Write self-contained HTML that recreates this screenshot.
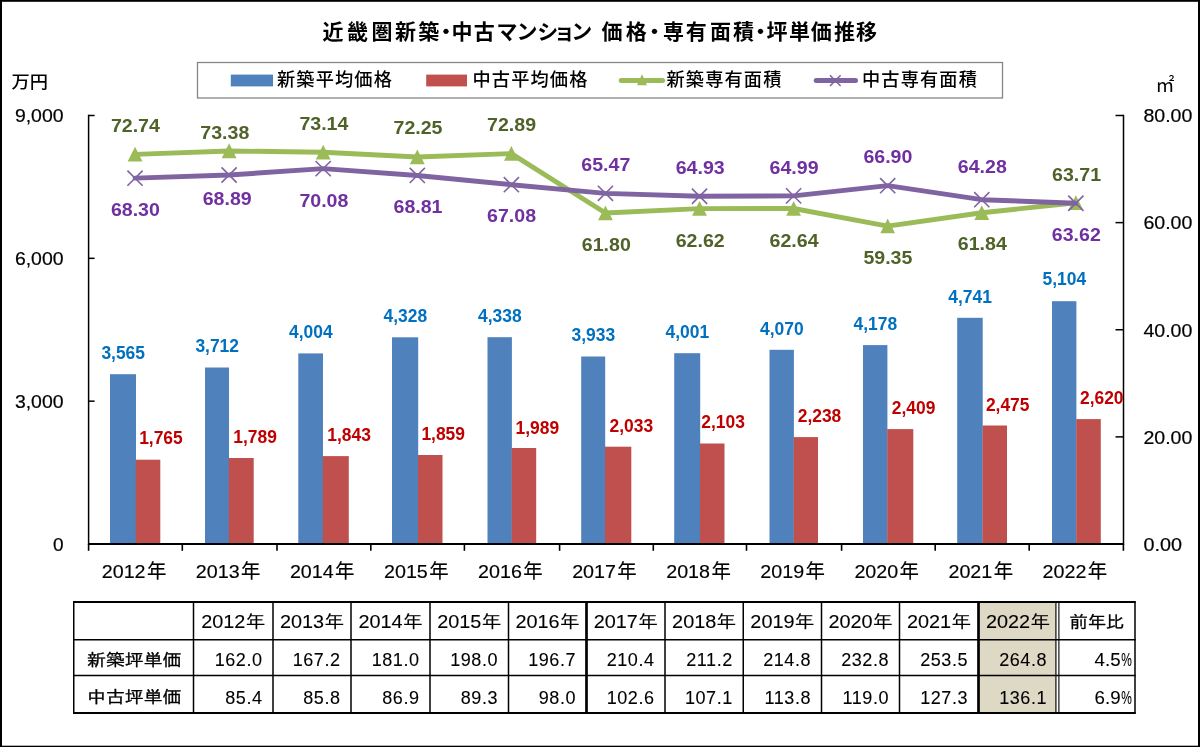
<!DOCTYPE html>
<html lang="ja"><head><meta charset="utf-8"><title>近畿圏新築・中古マンション 価格・専有面積・坪単価推移</title>
<style>html,body{margin:0;padding:0;background:#fff;}body{width:1200px;height:747px;overflow:hidden;font-family:"Liberation Sans", "Noto Sans CJK JP", sans-serif;}svg text{white-space:pre;}</style>
</head><body>
<svg width="1200" height="747" viewBox="0 0 1200 747" style="display:block"><rect x="0.00" y="0.00" width="1200.00" height="747.00" fill="#fff" />
<rect x="0.00" y="0.00" width="1200.00" height="1.80" fill="#000" />
<rect x="0.00" y="0.00" width="2.00" height="747.00" fill="#000" />
<rect x="1198.00" y="0.00" width="2.00" height="747.00" fill="#000" />
<rect x="0.00" y="745.70" width="1200.00" height="1.30" fill="#000" />
<text x="333.10 357.50 381.90 405.60 428.75 446.00 461.90 484.35 507.00 527.00 547.80 564.30 581.80 596.50 611.90 636.25 654.60 673.40 696.25 720.60 743.50 760.50 776.90 799.40 821.25 844.40 866.60" y="38.6" text-anchor="middle" font-family='"Liberation Sans", "Noto Sans CJK JP", sans-serif' font-weight="bold" font-size="21" fill="#000">近畿圏新築・中古マンション 価格・専有面積・坪単価推移</text>
<rect x="197.5" y="62.5" width="805" height="35.5" fill="#fff" stroke="#868686" stroke-width="1.3"/>
<rect x="230.80" y="74.60" width="42.20" height="11.80" fill="#4F81BD" />
<rect x="426.20" y="74.60" width="40.80" height="11.80" fill="#C0504D" />
<text x="277.00" y="86.00" font-size="18.2" fill="#000" text-anchor="start" font-weight="500" font-family='"Liberation Sans", "Noto Sans CJK JP", sans-serif' letter-spacing="1.15">新築平均価格</text>
<text x="472.50" y="86.00" font-size="18.2" fill="#000" text-anchor="start" font-weight="500" font-family='"Liberation Sans", "Noto Sans CJK JP", sans-serif' letter-spacing="1.15">中古平均価格</text>
<line x1="621.20" y1="80.40" x2="662.50" y2="80.40" stroke="#9BBB59" stroke-width="5" stroke-linecap="round"/>
<path d="M642 74.3 L647 85.3 L637 85.3 Z" fill="#9BBB59"/>
<text x="666.50" y="86.00" font-size="18.2" fill="#000" text-anchor="start" font-weight="500" font-family='"Liberation Sans", "Noto Sans CJK JP", sans-serif' letter-spacing="1.15">新築専有面積</text>
<line x1="816.20" y1="80.40" x2="855.50" y2="80.40" stroke="#8064A2" stroke-width="5" stroke-linecap="round"/>
<path d="M830 75.2 L840.6 86 M840.6 75.2 L830 86" stroke="#8064A2" stroke-width="1.6" fill="none"/>
<text x="862.00" y="86.00" font-size="18.2" fill="#000" text-anchor="start" font-weight="500" font-family='"Liberation Sans", "Noto Sans CJK JP", sans-serif' letter-spacing="1.15">中古専有面積</text>
<text x="11.50" y="88.40" font-size="17.3" fill="#000" text-anchor="start" font-weight="500" font-family='"Liberation Sans", "Noto Sans CJK JP", sans-serif' textLength="36.50" lengthAdjust="spacingAndGlyphs" >万円</text>
<text x="1155.50" y="91.50" font-size="19" fill="#000" text-anchor="start" font-weight="normal" font-family='"Liberation Sans", "Noto Sans CJK JP", sans-serif' >㎡</text>
<text x="63.50" y="550.80" font-size="19" fill="#000" text-anchor="end" font-weight="normal" font-family='"Liberation Sans", "Noto Sans CJK JP", sans-serif' stroke="#000" stroke-width="0.2">0</text>
<text x="63.50" y="407.97" font-size="19" fill="#000" text-anchor="end" font-weight="normal" font-family='"Liberation Sans", "Noto Sans CJK JP", sans-serif' textLength="48.60" lengthAdjust="spacingAndGlyphs" stroke="#000" stroke-width="0.2">3,000</text>
<text x="63.50" y="265.13" font-size="19" fill="#000" text-anchor="end" font-weight="normal" font-family='"Liberation Sans", "Noto Sans CJK JP", sans-serif' textLength="48.60" lengthAdjust="spacingAndGlyphs" stroke="#000" stroke-width="0.2">6,000</text>
<text x="63.50" y="122.30" font-size="19" fill="#000" text-anchor="end" font-weight="normal" font-family='"Liberation Sans", "Noto Sans CJK JP", sans-serif' textLength="48.60" lengthAdjust="spacingAndGlyphs" stroke="#000" stroke-width="0.2">9,000</text>
<text x="1143.40" y="550.80" font-size="19" fill="#000" text-anchor="start" font-weight="normal" font-family='"Liberation Sans", "Noto Sans CJK JP", sans-serif' textLength="38.50" lengthAdjust="spacingAndGlyphs" stroke="#000" stroke-width="0.2">0.00</text>
<text x="1143.40" y="443.68" font-size="19" fill="#000" text-anchor="start" font-weight="normal" font-family='"Liberation Sans", "Noto Sans CJK JP", sans-serif' textLength="49.00" lengthAdjust="spacingAndGlyphs" stroke="#000" stroke-width="0.2">20.00</text>
<text x="1143.40" y="336.55" font-size="19" fill="#000" text-anchor="start" font-weight="normal" font-family='"Liberation Sans", "Noto Sans CJK JP", sans-serif' textLength="49.00" lengthAdjust="spacingAndGlyphs" stroke="#000" stroke-width="0.2">40.00</text>
<text x="1143.40" y="229.43" font-size="19" fill="#000" text-anchor="start" font-weight="normal" font-family='"Liberation Sans", "Noto Sans CJK JP", sans-serif' textLength="49.00" lengthAdjust="spacingAndGlyphs" stroke="#000" stroke-width="0.2">60.00</text>
<text x="1143.40" y="122.30" font-size="19" fill="#000" text-anchor="start" font-weight="normal" font-family='"Liberation Sans", "Noto Sans CJK JP", sans-serif' textLength="49.00" lengthAdjust="spacingAndGlyphs" stroke="#000" stroke-width="0.2">80.00</text>
<rect x="110.00" y="374.20" width="26.00" height="169.80" fill="#4F81BD" />
<rect x="135.80" y="459.70" width="24.50" height="84.30" fill="#C0504D" />
<rect x="205.00" y="367.50" width="24.00" height="176.50" fill="#4F81BD" />
<rect x="228.80" y="458.00" width="24.90" height="86.00" fill="#C0504D" />
<rect x="298.30" y="353.40" width="24.70" height="190.60" fill="#4F81BD" />
<rect x="322.80" y="456.10" width="26.00" height="87.90" fill="#C0504D" />
<rect x="392.00" y="337.30" width="26.20" height="206.70" fill="#4F81BD" />
<rect x="418.00" y="455.00" width="24.50" height="89.00" fill="#C0504D" />
<rect x="487.50" y="337.20" width="24.40" height="206.80" fill="#4F81BD" />
<rect x="511.70" y="448.00" width="24.50" height="96.00" fill="#C0504D" />
<rect x="581.20" y="356.50" width="24.00" height="187.50" fill="#4F81BD" />
<rect x="605.00" y="446.70" width="26.30" height="97.30" fill="#C0504D" />
<rect x="674.20" y="353.20" width="26.00" height="190.80" fill="#4F81BD" />
<rect x="700.00" y="443.50" width="24.50" height="100.50" fill="#C0504D" />
<rect x="769.50" y="349.80" width="24.40" height="194.20" fill="#4F81BD" />
<rect x="793.70" y="437.10" width="24.30" height="106.90" fill="#C0504D" />
<rect x="863.00" y="345.10" width="24.40" height="198.90" fill="#4F81BD" />
<rect x="887.20" y="429.10" width="26.10" height="114.90" fill="#C0504D" />
<rect x="957.20" y="317.80" width="25.50" height="226.20" fill="#4F81BD" />
<rect x="982.50" y="425.50" width="24.50" height="118.50" fill="#C0504D" />
<rect x="1052.00" y="301.20" width="24.40" height="242.80" fill="#4F81BD" />
<rect x="1076.20" y="419.10" width="24.60" height="124.90" fill="#C0504D" />
<line x1="88.60" y1="114.75" x2="88.60" y2="544.75" stroke="#000" stroke-width="1.5" />
<line x1="1123.50" y1="114.75" x2="1123.50" y2="544.75" stroke="#000" stroke-width="1.5" />
<line x1="88.60" y1="544.00" x2="1123.50" y2="544.00" stroke="#000" stroke-width="1.8" />
<line x1="88.60" y1="544.00" x2="94.60" y2="544.00" stroke="#000" stroke-width="1.5" />
<line x1="88.60" y1="401.17" x2="94.60" y2="401.17" stroke="#000" stroke-width="1.5" />
<line x1="88.60" y1="258.33" x2="94.60" y2="258.33" stroke="#000" stroke-width="1.5" />
<line x1="88.60" y1="115.50" x2="94.60" y2="115.50" stroke="#000" stroke-width="1.5" />
<line x1="1115.50" y1="544.00" x2="1123.50" y2="544.00" stroke="#000" stroke-width="1.5" />
<line x1="1115.50" y1="436.88" x2="1123.50" y2="436.88" stroke="#000" stroke-width="1.5" />
<line x1="1115.50" y1="329.75" x2="1123.50" y2="329.75" stroke="#000" stroke-width="1.5" />
<line x1="1115.50" y1="222.62" x2="1123.50" y2="222.62" stroke="#000" stroke-width="1.5" />
<line x1="1115.50" y1="115.50" x2="1123.50" y2="115.50" stroke="#000" stroke-width="1.5" />
<line x1="88.60" y1="544.00" x2="88.60" y2="550.80" stroke="#000" stroke-width="1.6" />
<line x1="182.30" y1="544.00" x2="182.30" y2="550.80" stroke="#000" stroke-width="1.6" />
<line x1="277.00" y1="544.00" x2="277.00" y2="550.80" stroke="#000" stroke-width="1.6" />
<line x1="370.80" y1="544.00" x2="370.80" y2="550.80" stroke="#000" stroke-width="1.6" />
<line x1="464.40" y1="544.00" x2="464.40" y2="550.80" stroke="#000" stroke-width="1.6" />
<line x1="559.60" y1="544.00" x2="559.60" y2="550.80" stroke="#000" stroke-width="1.6" />
<line x1="653.30" y1="544.00" x2="653.30" y2="550.80" stroke="#000" stroke-width="1.6" />
<line x1="746.50" y1="544.00" x2="746.50" y2="550.80" stroke="#000" stroke-width="1.6" />
<line x1="841.60" y1="544.00" x2="841.60" y2="550.80" stroke="#000" stroke-width="1.6" />
<line x1="935.20" y1="544.00" x2="935.20" y2="550.80" stroke="#000" stroke-width="1.6" />
<line x1="1029.20" y1="544.00" x2="1029.20" y2="550.80" stroke="#000" stroke-width="1.6" />
<line x1="1123.40" y1="544.00" x2="1123.40" y2="550.80" stroke="#000" stroke-width="1.6" />
<text y="578.1" font-family='"Liberation Sans", "Noto Sans CJK JP", sans-serif' fill="#000" stroke="#000" stroke-width="0.15"><tspan x="101.74" font-size="18.3" textLength="43.8" lengthAdjust="spacingAndGlyphs">2012</tspan><tspan x="146.94" dy="-0.2" font-size="19.4">年</tspan></text>
<text y="578.1" font-family='"Liberation Sans", "Noto Sans CJK JP", sans-serif' fill="#000" stroke="#000" stroke-width="0.15"><tspan x="195.82" font-size="18.3" textLength="43.8" lengthAdjust="spacingAndGlyphs">2013</tspan><tspan x="241.02" dy="-0.2" font-size="19.4">年</tspan></text>
<text y="578.1" font-family='"Liberation Sans", "Noto Sans CJK JP", sans-serif' fill="#000" stroke="#000" stroke-width="0.15"><tspan x="289.90" font-size="18.3" textLength="43.8" lengthAdjust="spacingAndGlyphs">2014</tspan><tspan x="335.10" dy="-0.2" font-size="19.4">年</tspan></text>
<text y="578.1" font-family='"Liberation Sans", "Noto Sans CJK JP", sans-serif' fill="#000" stroke="#000" stroke-width="0.15"><tspan x="383.99" font-size="18.3" textLength="43.8" lengthAdjust="spacingAndGlyphs">2015</tspan><tspan x="429.19" dy="-0.2" font-size="19.4">年</tspan></text>
<text y="578.1" font-family='"Liberation Sans", "Noto Sans CJK JP", sans-serif' fill="#000" stroke="#000" stroke-width="0.15"><tspan x="478.07" font-size="18.3" textLength="43.8" lengthAdjust="spacingAndGlyphs">2016</tspan><tspan x="523.27" dy="-0.2" font-size="19.4">年</tspan></text>
<text y="578.1" font-family='"Liberation Sans", "Noto Sans CJK JP", sans-serif' fill="#000" stroke="#000" stroke-width="0.15"><tspan x="572.15" font-size="18.3" textLength="43.8" lengthAdjust="spacingAndGlyphs">2017</tspan><tspan x="617.35" dy="-0.2" font-size="19.4">年</tspan></text>
<text y="578.1" font-family='"Liberation Sans", "Noto Sans CJK JP", sans-serif' fill="#000" stroke="#000" stroke-width="0.15"><tspan x="666.23" font-size="18.3" textLength="43.8" lengthAdjust="spacingAndGlyphs">2018</tspan><tspan x="711.43" dy="-0.2" font-size="19.4">年</tspan></text>
<text y="578.1" font-family='"Liberation Sans", "Noto Sans CJK JP", sans-serif' fill="#000" stroke="#000" stroke-width="0.15"><tspan x="760.31" font-size="18.3" textLength="43.8" lengthAdjust="spacingAndGlyphs">2019</tspan><tspan x="805.51" dy="-0.2" font-size="19.4">年</tspan></text>
<text y="578.1" font-family='"Liberation Sans", "Noto Sans CJK JP", sans-serif' fill="#000" stroke="#000" stroke-width="0.15"><tspan x="854.40" font-size="18.3" textLength="43.8" lengthAdjust="spacingAndGlyphs">2020</tspan><tspan x="899.60" dy="-0.2" font-size="19.4">年</tspan></text>
<text y="578.1" font-family='"Liberation Sans", "Noto Sans CJK JP", sans-serif' fill="#000" stroke="#000" stroke-width="0.15"><tspan x="948.48" font-size="18.3" textLength="43.8" lengthAdjust="spacingAndGlyphs">2021</tspan><tspan x="993.68" dy="-0.2" font-size="19.4">年</tspan></text>
<text y="578.1" font-family='"Liberation Sans", "Noto Sans CJK JP", sans-serif' fill="#000" stroke="#000" stroke-width="0.15"><tspan x="1042.56" font-size="18.3" textLength="43.8" lengthAdjust="spacingAndGlyphs">2022</tspan><tspan x="1087.76" dy="-0.2" font-size="19.4">年</tspan></text>
<polyline points="135.04,154.39 229.12,150.96 323.20,152.24 417.29,157.01 511.37,153.58 605.45,212.98 699.53,208.59 793.61,208.48 887.70,226.11 981.78,212.77 1075.86,202.75" fill="none" stroke="#9BBB59" stroke-width="4.9" stroke-linejoin="round" stroke-linecap="round"/>
<path d="M135.04 146.79 L142.44 161.59 L127.64 161.59 Z" fill="#9BBB59"/>
<path d="M229.12 143.36 L236.52 158.16 L221.72 158.16 Z" fill="#9BBB59"/>
<path d="M323.20 144.64 L330.60 159.44 L315.80 159.44 Z" fill="#9BBB59"/>
<path d="M417.29 149.41 L424.69 164.21 L409.89 164.21 Z" fill="#9BBB59"/>
<path d="M511.37 145.98 L518.77 160.78 L503.97 160.78 Z" fill="#9BBB59"/>
<path d="M605.45 205.38 L612.85 220.18 L598.05 220.18 Z" fill="#9BBB59"/>
<path d="M699.53 200.99 L706.93 215.79 L692.13 215.79 Z" fill="#9BBB59"/>
<path d="M793.61 200.88 L801.01 215.68 L786.21 215.68 Z" fill="#9BBB59"/>
<path d="M887.70 218.51 L895.10 233.31 L880.30 233.31 Z" fill="#9BBB59"/>
<path d="M981.78 205.17 L989.18 219.97 L974.38 219.97 Z" fill="#9BBB59"/>
<path d="M1075.86 195.15 L1083.26 209.95 L1068.46 209.95 Z" fill="#9BBB59"/>
<polyline points="135.04,178.17 229.12,175.01 323.20,168.63 417.29,175.44 511.37,184.70 605.45,193.33 699.53,196.22 793.61,195.90 887.70,185.67 981.78,199.70 1075.86,203.24" fill="none" stroke="#8064A2" stroke-width="4.9" stroke-linejoin="round" stroke-linecap="round"/>
<path d="M127.44 170.57 L142.64 185.77 M142.64 170.57 L127.44 185.77" stroke="#8064A2" stroke-width="1.6" fill="none"/>
<path d="M221.52 167.41 L236.72 182.61 M236.72 167.41 L221.52 182.61" stroke="#8064A2" stroke-width="1.6" fill="none"/>
<path d="M315.60 161.03 L330.80 176.23 M330.80 161.03 L315.60 176.23" stroke="#8064A2" stroke-width="1.6" fill="none"/>
<path d="M409.69 167.84 L424.89 183.04 M424.89 167.84 L409.69 183.04" stroke="#8064A2" stroke-width="1.6" fill="none"/>
<path d="M503.77 177.10 L518.97 192.30 M518.97 177.10 L503.77 192.30" stroke="#8064A2" stroke-width="1.6" fill="none"/>
<path d="M597.85 185.73 L613.05 200.93 M613.05 185.73 L597.85 200.93" stroke="#8064A2" stroke-width="1.6" fill="none"/>
<path d="M691.93 188.62 L707.13 203.82 M707.13 188.62 L691.93 203.82" stroke="#8064A2" stroke-width="1.6" fill="none"/>
<path d="M786.01 188.30 L801.21 203.50 M801.21 188.30 L786.01 203.50" stroke="#8064A2" stroke-width="1.6" fill="none"/>
<path d="M880.10 178.07 L895.30 193.27 M895.30 178.07 L880.10 193.27" stroke="#8064A2" stroke-width="1.6" fill="none"/>
<path d="M974.18 192.10 L989.38 207.30 M989.38 192.10 L974.18 207.30" stroke="#8064A2" stroke-width="1.6" fill="none"/>
<path d="M1068.26 195.64 L1083.46 210.84 M1083.46 195.64 L1068.26 210.84" stroke="#8064A2" stroke-width="1.6" fill="none"/>
<text x="135.40" y="131.80" font-size="19.2" fill="#4F6228" text-anchor="middle" font-weight="bold" font-family='"Liberation Sans", "Noto Sans CJK JP", sans-serif' textLength="49.00" lengthAdjust="spacingAndGlyphs" >72.74</text>
<text x="135.40" y="215.70" font-size="19.2" fill="#7030A0" text-anchor="middle" font-weight="bold" font-family='"Liberation Sans", "Noto Sans CJK JP", sans-serif' textLength="49.00" lengthAdjust="spacingAndGlyphs" >68.30</text>
<text x="224.80" y="138.80" font-size="19.2" fill="#4F6228" text-anchor="middle" font-weight="bold" font-family='"Liberation Sans", "Noto Sans CJK JP", sans-serif' textLength="49.00" lengthAdjust="spacingAndGlyphs" >73.38</text>
<text x="227.20" y="204.50" font-size="19.2" fill="#7030A0" text-anchor="middle" font-weight="bold" font-family='"Liberation Sans", "Noto Sans CJK JP", sans-serif' textLength="49.00" lengthAdjust="spacingAndGlyphs" >68.89</text>
<text x="323.90" y="130.00" font-size="19.2" fill="#4F6228" text-anchor="middle" font-weight="bold" font-family='"Liberation Sans", "Noto Sans CJK JP", sans-serif' textLength="49.00" lengthAdjust="spacingAndGlyphs" >73.14</text>
<text x="323.90" y="207.40" font-size="19.2" fill="#7030A0" text-anchor="middle" font-weight="bold" font-family='"Liberation Sans", "Noto Sans CJK JP", sans-serif' textLength="49.00" lengthAdjust="spacingAndGlyphs" >70.08</text>
<text x="418.00" y="133.80" font-size="19.2" fill="#4F6228" text-anchor="middle" font-weight="bold" font-family='"Liberation Sans", "Noto Sans CJK JP", sans-serif' textLength="49.00" lengthAdjust="spacingAndGlyphs" >72.25</text>
<text x="418.00" y="212.90" font-size="19.2" fill="#7030A0" text-anchor="middle" font-weight="bold" font-family='"Liberation Sans", "Noto Sans CJK JP", sans-serif' textLength="49.00" lengthAdjust="spacingAndGlyphs" >68.81</text>
<text x="511.60" y="130.50" font-size="19.2" fill="#4F6228" text-anchor="middle" font-weight="bold" font-family='"Liberation Sans", "Noto Sans CJK JP", sans-serif' textLength="49.00" lengthAdjust="spacingAndGlyphs" >72.89</text>
<text x="511.60" y="222.40" font-size="19.2" fill="#7030A0" text-anchor="middle" font-weight="bold" font-family='"Liberation Sans", "Noto Sans CJK JP", sans-serif' textLength="49.00" lengthAdjust="spacingAndGlyphs" >67.08</text>
<text x="606.30" y="251.00" font-size="19.2" fill="#4F6228" text-anchor="middle" font-weight="bold" font-family='"Liberation Sans", "Noto Sans CJK JP", sans-serif' textLength="49.00" lengthAdjust="spacingAndGlyphs" >61.80</text>
<text x="605.80" y="170.90" font-size="19.2" fill="#7030A0" text-anchor="middle" font-weight="bold" font-family='"Liberation Sans", "Noto Sans CJK JP", sans-serif' textLength="49.00" lengthAdjust="spacingAndGlyphs" >65.47</text>
<text x="700.20" y="246.80" font-size="19.2" fill="#4F6228" text-anchor="middle" font-weight="bold" font-family='"Liberation Sans", "Noto Sans CJK JP", sans-serif' textLength="49.00" lengthAdjust="spacingAndGlyphs" >62.62</text>
<text x="700.20" y="173.90" font-size="19.2" fill="#7030A0" text-anchor="middle" font-weight="bold" font-family='"Liberation Sans", "Noto Sans CJK JP", sans-serif' textLength="49.00" lengthAdjust="spacingAndGlyphs" >64.93</text>
<text x="794.10" y="246.60" font-size="19.2" fill="#4F6228" text-anchor="middle" font-weight="bold" font-family='"Liberation Sans", "Noto Sans CJK JP", sans-serif' textLength="49.00" lengthAdjust="spacingAndGlyphs" >62.64</text>
<text x="794.10" y="173.90" font-size="19.2" fill="#7030A0" text-anchor="middle" font-weight="bold" font-family='"Liberation Sans", "Noto Sans CJK JP", sans-serif' textLength="49.00" lengthAdjust="spacingAndGlyphs" >64.99</text>
<text x="887.90" y="264.00" font-size="19.2" fill="#4F6228" text-anchor="middle" font-weight="bold" font-family='"Liberation Sans", "Noto Sans CJK JP", sans-serif' textLength="49.00" lengthAdjust="spacingAndGlyphs" >59.35</text>
<text x="887.90" y="163.40" font-size="19.2" fill="#7030A0" text-anchor="middle" font-weight="bold" font-family='"Liberation Sans", "Noto Sans CJK JP", sans-serif' textLength="49.00" lengthAdjust="spacingAndGlyphs" >66.90</text>
<text x="982.30" y="250.30" font-size="19.2" fill="#4F6228" text-anchor="middle" font-weight="bold" font-family='"Liberation Sans", "Noto Sans CJK JP", sans-serif' textLength="49.00" lengthAdjust="spacingAndGlyphs" >61.84</text>
<text x="982.30" y="173.00" font-size="19.2" fill="#7030A0" text-anchor="middle" font-weight="bold" font-family='"Liberation Sans", "Noto Sans CJK JP", sans-serif' textLength="49.00" lengthAdjust="spacingAndGlyphs" >64.28</text>
<text x="1076.60" y="180.60" font-size="19.2" fill="#4F6228" text-anchor="middle" font-weight="bold" font-family='"Liberation Sans", "Noto Sans CJK JP", sans-serif' textLength="49.00" lengthAdjust="spacingAndGlyphs" >63.71</text>
<text x="1076.30" y="241.20" font-size="19.2" fill="#7030A0" text-anchor="middle" font-weight="bold" font-family='"Liberation Sans", "Noto Sans CJK JP", sans-serif' textLength="49.00" lengthAdjust="spacingAndGlyphs" >63.62</text>
<text x="123.20" y="358.77" font-size="19.2" fill="#0070C0" text-anchor="middle" font-weight="bold" font-family='"Liberation Sans", "Noto Sans CJK JP", sans-serif' textLength="43.60" lengthAdjust="spacingAndGlyphs" >3,565</text>
<text x="160.94" y="444.47" font-size="19.2" fill="#C00000" text-anchor="middle" font-weight="bold" font-family='"Liberation Sans", "Noto Sans CJK JP", sans-serif' textLength="43.60" lengthAdjust="spacingAndGlyphs" >1,765</text>
<text x="217.20" y="351.77" font-size="19.2" fill="#0070C0" text-anchor="middle" font-weight="bold" font-family='"Liberation Sans", "Noto Sans CJK JP", sans-serif' textLength="43.60" lengthAdjust="spacingAndGlyphs" >3,712</text>
<text x="255.02" y="443.32" font-size="19.2" fill="#C00000" text-anchor="middle" font-weight="bold" font-family='"Liberation Sans", "Noto Sans CJK JP", sans-serif' textLength="43.60" lengthAdjust="spacingAndGlyphs" >1,789</text>
<text x="310.85" y="337.87" font-size="19.2" fill="#0070C0" text-anchor="middle" font-weight="bold" font-family='"Liberation Sans", "Noto Sans CJK JP", sans-serif' textLength="43.60" lengthAdjust="spacingAndGlyphs" >4,004</text>
<text x="349.10" y="440.75" font-size="19.2" fill="#C00000" text-anchor="middle" font-weight="bold" font-family='"Liberation Sans", "Noto Sans CJK JP", sans-serif' textLength="43.60" lengthAdjust="spacingAndGlyphs" >1,843</text>
<text x="405.30" y="322.44" font-size="19.2" fill="#0070C0" text-anchor="middle" font-weight="bold" font-family='"Liberation Sans", "Noto Sans CJK JP", sans-serif' textLength="43.60" lengthAdjust="spacingAndGlyphs" >4,328</text>
<text x="443.19" y="439.99" font-size="19.2" fill="#C00000" text-anchor="middle" font-weight="bold" font-family='"Liberation Sans", "Noto Sans CJK JP", sans-serif' textLength="43.60" lengthAdjust="spacingAndGlyphs" >1,859</text>
<text x="499.90" y="321.96" font-size="19.2" fill="#0070C0" text-anchor="middle" font-weight="bold" font-family='"Liberation Sans", "Noto Sans CJK JP", sans-serif' textLength="43.60" lengthAdjust="spacingAndGlyphs" >4,338</text>
<text x="537.27" y="433.80" font-size="19.2" fill="#C00000" text-anchor="middle" font-weight="bold" font-family='"Liberation Sans", "Noto Sans CJK JP", sans-serif' textLength="43.60" lengthAdjust="spacingAndGlyphs" >1,989</text>
<text x="593.40" y="341.25" font-size="19.2" fill="#0070C0" text-anchor="middle" font-weight="bold" font-family='"Liberation Sans", "Noto Sans CJK JP", sans-serif' textLength="43.60" lengthAdjust="spacingAndGlyphs" >3,933</text>
<text x="631.35" y="431.71" font-size="19.2" fill="#C00000" text-anchor="middle" font-weight="bold" font-family='"Liberation Sans", "Noto Sans CJK JP", sans-serif' textLength="43.60" lengthAdjust="spacingAndGlyphs" >2,033</text>
<text x="687.40" y="338.01" font-size="19.2" fill="#0070C0" text-anchor="middle" font-weight="bold" font-family='"Liberation Sans", "Noto Sans CJK JP", sans-serif' textLength="43.60" lengthAdjust="spacingAndGlyphs" >4,001</text>
<text x="723.13" y="428.37" font-size="19.2" fill="#C00000" text-anchor="middle" font-weight="bold" font-family='"Liberation Sans", "Noto Sans CJK JP", sans-serif' textLength="43.60" lengthAdjust="spacingAndGlyphs" >2,103</text>
<text x="781.90" y="334.72" font-size="19.2" fill="#0070C0" text-anchor="middle" font-weight="bold" font-family='"Liberation Sans", "Noto Sans CJK JP", sans-serif' textLength="43.60" lengthAdjust="spacingAndGlyphs" >4,070</text>
<text x="819.51" y="421.95" font-size="19.2" fill="#C00000" text-anchor="middle" font-weight="bold" font-family='"Liberation Sans", "Noto Sans CJK JP", sans-serif' textLength="43.60" lengthAdjust="spacingAndGlyphs" >2,238</text>
<text x="875.40" y="329.58" font-size="19.2" fill="#0070C0" text-anchor="middle" font-weight="bold" font-family='"Liberation Sans", "Noto Sans CJK JP", sans-serif' textLength="43.60" lengthAdjust="spacingAndGlyphs" >4,178</text>
<text x="913.60" y="413.80" font-size="19.2" fill="#C00000" text-anchor="middle" font-weight="bold" font-family='"Liberation Sans", "Noto Sans CJK JP", sans-serif' textLength="43.60" lengthAdjust="spacingAndGlyphs" >2,409</text>
<text x="970.15" y="302.78" font-size="19.2" fill="#0070C0" text-anchor="middle" font-weight="bold" font-family='"Liberation Sans", "Noto Sans CJK JP", sans-serif' textLength="43.60" lengthAdjust="spacingAndGlyphs" >4,741</text>
<text x="1007.68" y="410.66" font-size="19.2" fill="#C00000" text-anchor="middle" font-weight="bold" font-family='"Liberation Sans", "Noto Sans CJK JP", sans-serif' textLength="43.60" lengthAdjust="spacingAndGlyphs" >2,475</text>
<text x="1064.40" y="285.49" font-size="19.2" fill="#0070C0" text-anchor="middle" font-weight="bold" font-family='"Liberation Sans", "Noto Sans CJK JP", sans-serif' textLength="43.60" lengthAdjust="spacingAndGlyphs" >5,104</text>
<text x="1101.76" y="403.76" font-size="19.2" fill="#C00000" text-anchor="middle" font-weight="bold" font-family='"Liberation Sans", "Noto Sans CJK JP", sans-serif' textLength="43.60" lengthAdjust="spacingAndGlyphs" >2,620</text>
<rect x="979.00" y="602.00" width="77.50" height="111.00" fill="#DDD9C4" />
<line x1="73.75" y1="601.40" x2="73.75" y2="713.60" stroke="#000" stroke-width="1.5" />
<line x1="193.50" y1="601.40" x2="193.50" y2="713.60" stroke="#000" stroke-width="1.5" />
<line x1="273.00" y1="601.40" x2="273.00" y2="713.60" stroke="#000" stroke-width="1.5" />
<line x1="351.00" y1="601.40" x2="351.00" y2="713.60" stroke="#000" stroke-width="1.5" />
<line x1="430.00" y1="601.40" x2="430.00" y2="713.60" stroke="#000" stroke-width="1.5" />
<line x1="508.50" y1="601.40" x2="508.50" y2="713.60" stroke="#000" stroke-width="1.5" />
<line x1="586.50" y1="601.40" x2="586.50" y2="713.60" stroke="#000" stroke-width="2.7" />
<line x1="665.00" y1="601.40" x2="665.00" y2="713.60" stroke="#000" stroke-width="1.5" />
<line x1="743.25" y1="601.40" x2="743.25" y2="713.60" stroke="#000" stroke-width="1.5" />
<line x1="821.50" y1="601.40" x2="821.50" y2="713.60" stroke="#000" stroke-width="1.5" />
<line x1="899.50" y1="601.40" x2="899.50" y2="713.60" stroke="#000" stroke-width="1.5" />
<line x1="978.50" y1="601.40" x2="978.50" y2="713.60" stroke="#000" stroke-width="2.7" />
<line x1="1055.90" y1="602.00" x2="1055.90" y2="713.00" stroke="#000" stroke-width="1.1" />
<line x1="1058.90" y1="602.00" x2="1058.90" y2="713.00" stroke="#000" stroke-width="1.1" />
<line x1="1135.00" y1="601.40" x2="1135.00" y2="713.60" stroke="#000" stroke-width="1.5" />
<line x1="73.05" y1="602.00" x2="1135.70" y2="602.00" stroke="#000" stroke-width="1.8" />
<line x1="73.05" y1="639.75" x2="1135.70" y2="639.75" stroke="#000" stroke-width="1.5" />
<line x1="73.05" y1="675.50" x2="1135.70" y2="675.50" stroke="#000" stroke-width="1.5" />
<line x1="73.05" y1="713.00" x2="1135.70" y2="713.00" stroke="#000" stroke-width="1.8" />
<text x="233.25" y="628.40" font-size="18" fill="#000" text-anchor="middle" font-weight="normal" font-family='"Liberation Sans", "IPAGothic", "Noto Sans CJK JP", sans-serif' textLength="64.00" lengthAdjust="spacingAndGlyphs" stroke="#000" stroke-width="0.1">2012年</text>
<text x="312.00" y="628.40" font-size="18" fill="#000" text-anchor="middle" font-weight="normal" font-family='"Liberation Sans", "IPAGothic", "Noto Sans CJK JP", sans-serif' textLength="64.00" lengthAdjust="spacingAndGlyphs" stroke="#000" stroke-width="0.1">2013年</text>
<text x="390.50" y="628.40" font-size="18" fill="#000" text-anchor="middle" font-weight="normal" font-family='"Liberation Sans", "IPAGothic", "Noto Sans CJK JP", sans-serif' textLength="64.00" lengthAdjust="spacingAndGlyphs" stroke="#000" stroke-width="0.1">2014年</text>
<text x="469.25" y="628.40" font-size="18" fill="#000" text-anchor="middle" font-weight="normal" font-family='"Liberation Sans", "IPAGothic", "Noto Sans CJK JP", sans-serif' textLength="64.00" lengthAdjust="spacingAndGlyphs" stroke="#000" stroke-width="0.1">2015年</text>
<text x="547.50" y="628.40" font-size="18" fill="#000" text-anchor="middle" font-weight="normal" font-family='"Liberation Sans", "IPAGothic", "Noto Sans CJK JP", sans-serif' textLength="64.00" lengthAdjust="spacingAndGlyphs" stroke="#000" stroke-width="0.1">2016年</text>
<text x="625.75" y="628.40" font-size="18" fill="#000" text-anchor="middle" font-weight="normal" font-family='"Liberation Sans", "IPAGothic", "Noto Sans CJK JP", sans-serif' textLength="64.00" lengthAdjust="spacingAndGlyphs" stroke="#000" stroke-width="0.1">2017年</text>
<text x="704.12" y="628.40" font-size="18" fill="#000" text-anchor="middle" font-weight="normal" font-family='"Liberation Sans", "IPAGothic", "Noto Sans CJK JP", sans-serif' textLength="64.00" lengthAdjust="spacingAndGlyphs" stroke="#000" stroke-width="0.1">2018年</text>
<text x="782.38" y="628.40" font-size="18" fill="#000" text-anchor="middle" font-weight="normal" font-family='"Liberation Sans", "IPAGothic", "Noto Sans CJK JP", sans-serif' textLength="64.00" lengthAdjust="spacingAndGlyphs" stroke="#000" stroke-width="0.1">2019年</text>
<text x="860.50" y="628.40" font-size="18" fill="#000" text-anchor="middle" font-weight="normal" font-family='"Liberation Sans", "IPAGothic", "Noto Sans CJK JP", sans-serif' textLength="64.00" lengthAdjust="spacingAndGlyphs" stroke="#000" stroke-width="0.1">2020年</text>
<text x="939.00" y="628.40" font-size="18" fill="#000" text-anchor="middle" font-weight="normal" font-family='"Liberation Sans", "IPAGothic", "Noto Sans CJK JP", sans-serif' textLength="64.00" lengthAdjust="spacingAndGlyphs" stroke="#000" stroke-width="0.1">2021年</text>
<text x="1018.00" y="628.40" font-size="18" fill="#000" text-anchor="middle" font-weight="normal" font-family='"Liberation Sans", "IPAGothic", "Noto Sans CJK JP", sans-serif' textLength="64.00" lengthAdjust="spacingAndGlyphs" stroke="#000" stroke-width="0.1">2022年</text>
<text x="1096.95" y="628.20" font-size="17" fill="#000" text-anchor="middle" font-weight="normal" font-family='"Liberation Sans", "IPAGothic", "Noto Sans CJK JP", sans-serif' textLength="55.00" lengthAdjust="spacingAndGlyphs" stroke="#000" stroke-width="0.3">前年比</text>
<text x="87.00" y="665.60" font-size="17" fill="#000" text-anchor="start" font-weight="normal" font-family='"Liberation Sans", "IPAGothic", "Noto Sans CJK JP", sans-serif' textLength="94.50" lengthAdjust="spacingAndGlyphs" stroke="#000" stroke-width="0.3">新築坪単価</text>
<text x="87.00" y="703.20" font-size="17" fill="#000" text-anchor="start" font-weight="normal" font-family='"Liberation Sans", "IPAGothic", "Noto Sans CJK JP", sans-serif' textLength="94.50" lengthAdjust="spacingAndGlyphs" stroke="#000" stroke-width="0.3">中古坪単価</text>
<text x="262.70" y="666.20" font-size="18" fill="#000" text-anchor="end" font-weight="normal" font-family='"Liberation Sans", "IPAGothic", "Noto Sans CJK JP", sans-serif' letter-spacing="0.6" stroke="#000" stroke-width="0.1">162.0</text>
<text x="340.70" y="666.20" font-size="18" fill="#000" text-anchor="end" font-weight="normal" font-family='"Liberation Sans", "IPAGothic", "Noto Sans CJK JP", sans-serif' letter-spacing="0.6" stroke="#000" stroke-width="0.1">167.2</text>
<text x="419.70" y="666.20" font-size="18" fill="#000" text-anchor="end" font-weight="normal" font-family='"Liberation Sans", "IPAGothic", "Noto Sans CJK JP", sans-serif' letter-spacing="0.6" stroke="#000" stroke-width="0.1">181.0</text>
<text x="498.20" y="666.20" font-size="18" fill="#000" text-anchor="end" font-weight="normal" font-family='"Liberation Sans", "IPAGothic", "Noto Sans CJK JP", sans-serif' letter-spacing="0.6" stroke="#000" stroke-width="0.1">198.0</text>
<text x="576.20" y="666.20" font-size="18" fill="#000" text-anchor="end" font-weight="normal" font-family='"Liberation Sans", "IPAGothic", "Noto Sans CJK JP", sans-serif' letter-spacing="0.6" stroke="#000" stroke-width="0.1">196.7</text>
<text x="654.70" y="666.20" font-size="18" fill="#000" text-anchor="end" font-weight="normal" font-family='"Liberation Sans", "IPAGothic", "Noto Sans CJK JP", sans-serif' letter-spacing="0.6" stroke="#000" stroke-width="0.1">210.4</text>
<text x="732.95" y="666.20" font-size="18" fill="#000" text-anchor="end" font-weight="normal" font-family='"Liberation Sans", "IPAGothic", "Noto Sans CJK JP", sans-serif' letter-spacing="0.6" stroke="#000" stroke-width="0.1">211.2</text>
<text x="811.20" y="666.20" font-size="18" fill="#000" text-anchor="end" font-weight="normal" font-family='"Liberation Sans", "IPAGothic", "Noto Sans CJK JP", sans-serif' letter-spacing="0.6" stroke="#000" stroke-width="0.1">214.8</text>
<text x="889.20" y="666.20" font-size="18" fill="#000" text-anchor="end" font-weight="normal" font-family='"Liberation Sans", "IPAGothic", "Noto Sans CJK JP", sans-serif' letter-spacing="0.6" stroke="#000" stroke-width="0.1">232.8</text>
<text x="968.20" y="666.20" font-size="18" fill="#000" text-anchor="end" font-weight="normal" font-family='"Liberation Sans", "IPAGothic", "Noto Sans CJK JP", sans-serif' letter-spacing="0.6" stroke="#000" stroke-width="0.1">253.5</text>
<text x="1047.20" y="666.20" font-size="18" fill="#000" text-anchor="end" font-weight="normal" font-family='"Liberation Sans", "IPAGothic", "Noto Sans CJK JP", sans-serif' letter-spacing="0.6" stroke="#000" stroke-width="0.1">264.8</text>
<text y="666.2" font-family='"Liberation Sans", "IPAGothic", "Noto Sans CJK JP", sans-serif' font-size="18" fill="#000" stroke="#000" stroke-width="0.1"><tspan x="1094.6" textLength="26" lengthAdjust="spacingAndGlyphs">4.5</tspan><tspan x="1121.2" textLength="10.6" lengthAdjust="spacingAndGlyphs">%</tspan></text>
<text x="262.70" y="704.00" font-size="18" fill="#000" text-anchor="end" font-weight="normal" font-family='"Liberation Sans", "IPAGothic", "Noto Sans CJK JP", sans-serif' letter-spacing="0.6" stroke="#000" stroke-width="0.1">85.4</text>
<text x="340.70" y="704.00" font-size="18" fill="#000" text-anchor="end" font-weight="normal" font-family='"Liberation Sans", "IPAGothic", "Noto Sans CJK JP", sans-serif' letter-spacing="0.6" stroke="#000" stroke-width="0.1">85.8</text>
<text x="419.70" y="704.00" font-size="18" fill="#000" text-anchor="end" font-weight="normal" font-family='"Liberation Sans", "IPAGothic", "Noto Sans CJK JP", sans-serif' letter-spacing="0.6" stroke="#000" stroke-width="0.1">86.9</text>
<text x="498.20" y="704.00" font-size="18" fill="#000" text-anchor="end" font-weight="normal" font-family='"Liberation Sans", "IPAGothic", "Noto Sans CJK JP", sans-serif' letter-spacing="0.6" stroke="#000" stroke-width="0.1">89.3</text>
<text x="576.20" y="704.00" font-size="18" fill="#000" text-anchor="end" font-weight="normal" font-family='"Liberation Sans", "IPAGothic", "Noto Sans CJK JP", sans-serif' letter-spacing="0.6" stroke="#000" stroke-width="0.1">98.0</text>
<text x="654.70" y="704.00" font-size="18" fill="#000" text-anchor="end" font-weight="normal" font-family='"Liberation Sans", "IPAGothic", "Noto Sans CJK JP", sans-serif' letter-spacing="0.6" stroke="#000" stroke-width="0.1">102.6</text>
<text x="732.95" y="704.00" font-size="18" fill="#000" text-anchor="end" font-weight="normal" font-family='"Liberation Sans", "IPAGothic", "Noto Sans CJK JP", sans-serif' letter-spacing="0.6" stroke="#000" stroke-width="0.1">107.1</text>
<text x="811.20" y="704.00" font-size="18" fill="#000" text-anchor="end" font-weight="normal" font-family='"Liberation Sans", "IPAGothic", "Noto Sans CJK JP", sans-serif' letter-spacing="0.6" stroke="#000" stroke-width="0.1">113.8</text>
<text x="889.20" y="704.00" font-size="18" fill="#000" text-anchor="end" font-weight="normal" font-family='"Liberation Sans", "IPAGothic", "Noto Sans CJK JP", sans-serif' letter-spacing="0.6" stroke="#000" stroke-width="0.1">119.0</text>
<text x="968.20" y="704.00" font-size="18" fill="#000" text-anchor="end" font-weight="normal" font-family='"Liberation Sans", "IPAGothic", "Noto Sans CJK JP", sans-serif' letter-spacing="0.6" stroke="#000" stroke-width="0.1">127.3</text>
<text x="1047.20" y="704.00" font-size="18" fill="#000" text-anchor="end" font-weight="normal" font-family='"Liberation Sans", "IPAGothic", "Noto Sans CJK JP", sans-serif' letter-spacing="0.6" stroke="#000" stroke-width="0.1">136.1</text>
<text y="704" font-family='"Liberation Sans", "IPAGothic", "Noto Sans CJK JP", sans-serif' font-size="18" fill="#000" stroke="#000" stroke-width="0.1"><tspan x="1094.6" textLength="26" lengthAdjust="spacingAndGlyphs">6.9</tspan><tspan x="1121.2" textLength="10.6" lengthAdjust="spacingAndGlyphs">%</tspan></text></svg>
</body></html>
